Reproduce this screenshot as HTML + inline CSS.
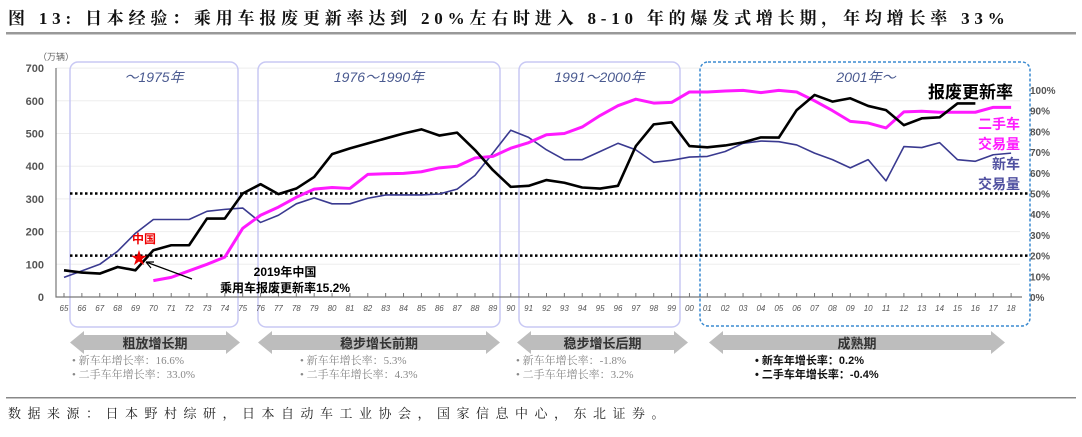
<!DOCTYPE html>
<html><head><meta charset="utf-8"><style>
body{margin:0;background:#fff;width:1082px;height:432px;overflow:hidden;font-family:"Liberation Sans","Noto Sans CJK SC",sans-serif}
svg text{font-family:"Liberation Sans","Noto Sans CJK SC",sans-serif}
svg text.serif{font-family:"Liberation Serif","Noto Serif CJK SC",serif}
</style></head><body>
<svg id="c" width="1082" height="432">
<text class="serif" x="8" y="24" font-size="17" font-weight="bold" fill="#111" letter-spacing="4.8">图 13: 日本经验：乘用车报废更新率达到 20%左右时进入 8-10 年的爆发式增长期，年均增长率 33%</text>
<rect x="6" y="32" width="1070" height="2.5" fill="#999"/>
<g id="bg"></g><g id="marks"></g>
<rect x="6" y="397" width="1070" height="1.5" fill="#888"/>
<text class="serif" x="8" y="418" font-size="13" fill="#222" letter-spacing="6.5">数据来源：日本野村综研，日本自动车工业协会，国家信息中心，东北证券。</text>
</svg>
<script>
const years=[];for(let y=1965;y<=2018;y++)years.push(y);
const newCar=[60,80,100,140,195,237,237,237,262,268,272,228,250,285,303,285,285,302,312,312,312,315,330,372,440,510,488,450,420,420,445,470,450,412,418,428,430,445,470,477,475,465,440,420,395,420,355,460,457,472,420,415,435,440];
const usedYears=years.slice(5);
const usedCar=[50,60,80,100,122,210,250,275,305,330,335,332,375,377,378,383,395,400,425,430,455,472,496,500,520,555,585,605,593,595,627,627,630,632,625,632,627,600,570,537,532,517,566,568,565,565,565,580,580];
const rateYears=years.slice(0,52);
const rate=[12.9,11.8,11.3,14.5,12.9,22.6,25,25,37.9,37.9,50,54.5,49.7,52.4,58,69,71.8,74.2,76.6,79,81,78,79.4,71,61.3,53.2,53.7,56.5,55.2,52.9,52.4,53.7,72.9,83.4,84.4,72.9,72.3,73.2,74.7,77.1,77,90.3,97.6,94.4,96,92.3,90.3,83,86.3,86.8,93.5,93.5];
const leftTicks=[0,100,200,300,400,500,600,700];
const rightTicks=[0,10,20,30,40,50,60,70,80,90,100];
const NS='http://www.w3.org/2000/svg';
const xs=y=>64+(y-1965)*17.87;
const yl=v=>297-v*0.327;
const yr=p=>297-p*2.07;
function mk(tag,at,parent,txt){const e=document.createElementNS(NS,tag);for(const k in at)e.setAttribute(k,at[k]);if(txt!==undefined)e.textContent=txt;document.getElementById(parent).appendChild(e);return e;}
leftTicks.forEach(t=>{if(t>0){const g=mk('line',{x1:56,x2:1020,y1:yl(t),y2:yl(t),stroke:'#eee','stroke-width':1},'bg');

}
const l=mk('text',{x:44,y:yl(t)+4,'font-size':11,'font-weight':'bold',fill:'#555','text-anchor':'end'},'bg',t);

});
rightTicks.forEach(t=>{const l=mk('text',{x:1030,y:yr(t)+4,'font-size':10,'font-weight':'bold',fill:'#555'},'bg',t+'%');

});
let u=mk('text',{x:38,y:60,'font-size':9,fill:'#666'},'bg','（万辆）');


[[70,238,'～1975年'],[258,500,'1976～1990年'],[519,680,'1991～2000年']].forEach(b=>{
const r=mk('rect',{x:b[0],y:62,width:b[1]-b[0],height:265,rx:8,fill:'none',stroke:'#c8c8f4','stroke-width':1.5},'bg');


const t=mk('text',{x:(b[0]+b[1])/2,y:82,'font-size':14,'font-style':'italic',fill:'#4a5a90','text-anchor':'middle'},'bg',b[2]);

});
let db=mk('rect',{x:700,y:62,width:330,height:264,rx:8,fill:'none',stroke:'#3a8ad0','stroke-width':1.5,'stroke-dasharray':'3,2'},'bg');


let dl=mk('text',{x:866,y:82,'font-size':14,'font-style':'italic',fill:'#4a5a90','text-anchor':'middle'},'bg','2001年～');


let ax=mk('path',{d:'M56 68V297H1022',stroke:'#777',fill:'none','stroke-width':1.2},'bg');


years.forEach(y=>{const tk=mk('line',{x1:xs(y),x2:xs(y),y1:297,y2:293,stroke:'#777'},'bg');


const l=mk('text',{x:xs(y),y:311,'font-size':8,'font-style':'italic',fill:'#555','text-anchor':'middle'},'bg',String(y%100).padStart(2,'0'));

});
[50,20].forEach(p=>{const d=mk('line',{x1:70,x2:1030,y1:yr(p),y2:yr(p),stroke:'#000','stroke-width':2.5,'stroke-dasharray':'2.5,2.5'},'bg');

});
function line(xa,ya,f,color,w,name){const p=mk('polyline',{points:xa.map((x,i)=>xs(x)+','+f(ya[i])).join(' '),fill:'none',stroke:color,'stroke-width':w,'stroke-linejoin':'round'},'marks');

}
line(years,newCar,yl,'#3a3a90',1.6,'new-car-line');
line(usedYears,usedCar,yl,'#ff1aff',3,'used-car-line');
line(rateYears,rate,yr,'#000',2.6,'scrap-rate-line');
const txt=(x,y,s,fs,col,name,anchor)=>{const t=mk('text',{x:x,y:y,'font-size':fs,'font-weight':'bold',fill:col,'text-anchor':anchor||'start'},'marks',s);

};
txt(928,98,'报废更新率',17,'#000','legend-scrap-rate');
txt(1020,129,'二手车',14,'#ff1aff','legend-used-car','end');
txt(1020,149,'交易量',14,'#ff1aff','legend-used-car-2','end');
txt(1020,169,'新车',14,'#5050a0','legend-new-car','end');
txt(1020,189,'交易量',14,'#5050a0','legend-new-car-2','end');
txt(132,243,'中国',12,'#e00','china-label');
let st=mk('text',{x:139,y:264,'font-size':17,fill:'#e00','text-anchor':'middle'},'marks','★');


let ar=mk('path',{d:'M192 279L146 262M146 262l8 0M146 262l5 6',stroke:'#000','stroke-width':1.2,fill:'none'},'marks');


txt(285,276,'2019年中国',12,'#000','china-note-1','middle');
txt(285,292,'乘用车报废更新率15.2%',12,'#000','china-note-2','middle');
[[70,240,'粗放增长期',['新车年增长率：16.6%','二手车年增长率：33.0%'],'#888'],
 [258,500,'稳步增长前期',['新车年增长率：5.3%','二手车年增长率：4.3%'],'#888'],
 [517,688,'稳步增长后期',['新车年增长率：-1.8%','二手车年增长率：3.2%'],'#888'],
 [709,1005,'成熟期',['新车年增长率：0.2%','二手车年增长率：-0.4%'],'#111']].forEach((a,i)=>{
const x0=a[0],x1=a[1],yt=331,yb=354,ym=342.5;
const p=mk('path',{d:`M${x0} ${ym}L${x0+14} ${yt}V${yt+4}H${x1-14}V${yt}L${x1} ${ym}L${x1-14} ${yb}V${yb-4}H${x0+14}V${yb}Z`,fill:'#bdbdbd'},'bg');


const t=mk('text',{x:(x0+x1)/2,y:348,'font-size':13,'font-weight':'bold',fill:'#333','text-anchor':'middle'},'bg',a[2]);


const bx=[72,300,516,755][i];
a[3].forEach((s,j)=>{const b=mk('text',{x:bx,y:364+j*14,'font-size':11,fill:a[4],'font-weight':i==3?'bold':'normal','class':i==3?'':'serif'},'bg','•   '+s);

});});
</script>
</body></html>
